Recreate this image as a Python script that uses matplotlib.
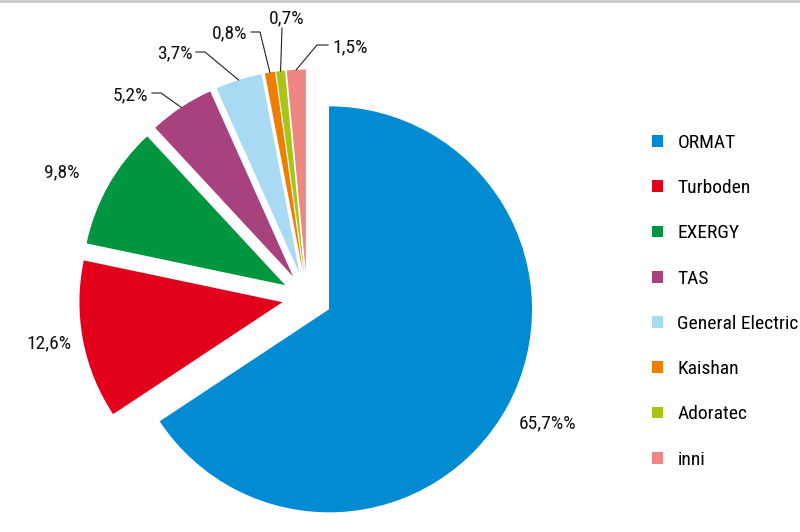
import matplotlib.pyplot as plt
import matplotlib.lines as mlines
import numpy as np

plt.rcParams['font.family'] = ['Roboto Condensed', 'DejaVu Sans']

companies = ['ORMAT', 'Turboden', 'EXERGY', 'TAS', 'General Electric', 'Kaishan', 'Adoratec', 'inni']
shares = [65.7, 12.6, 9.8, 5.2, 3.7, 0.8, 0.7, 1.5]
labels = ['65,7%%', '12,6%', '9,8%', '5,2%', '3,7%', '0,8%', '0,7%', '1,5%']
colors = ['#008bd2', '#e2001a', '#00953f', '#a8427f', '#a9daf3', '#ef7d00', '#a9c414', '#ee8682']

# layout (figure pixels, origin top-left)
W, H = 800, 532
cx, cy, R = 307, 297.5, 203
label_pos = [(548, 423), (49, 343), (62, 172), (130, 95), (175, 53), (230, 33), (287, 18), (350, 47)]
# start of leader line and knee point, None = no leader
leaders = [None, None, None,
           ((152, 93), (161, 93)),
           ((196, 52), (205, 52)),
           ((251, 32), (260, 32)),
           ((282, 28), (282, 28)),
           ((328, 45), (317, 45))]


def px(x, y):
    return (x - cx) / R, (cy - y) / R


fig = plt.figure(figsize=(W / 100, H / 100), dpi=100)
ax = fig.add_axes([0, 0, 1, 1])

wedges, _ = ax.pie(shares, colors=colors, startangle=90, counterclock=False,
                   explode=[25 / R] * len(shares), radius=1,
                   wedgeprops=dict(linewidth=0))
ax.set_xlim(-cx / R, (W - cx) / R)
ax.set_ylim(-(H - cy) / R, cy / R)
ax.set_aspect('auto')
ax.axis('off')

for w, lab, pos, ld in zip(wedges, labels, label_pos, leaders):
    ax.text(*px(*pos), lab, ha='center', va='center', fontsize=14, color='#111111')
    if ld is None:
        continue
    mid = np.deg2rad((w.theta1 + w.theta2) / 2)
    ex = w.center[0] + w.r * np.cos(mid)
    ey = w.center[1] + w.r * np.sin(mid)
    (sx, sy), (kx, ky) = px(*ld[0]), px(*ld[1])
    ax.plot([sx, kx, ex], [sy, ky, ey], color='#222222', lw=0.8)

ax.legend(wedges, companies, loc='upper left',
          bbox_to_anchor=(652 / W, 1 - 134 / H), bbox_transform=fig.transFigure,
          frameon=False, fontsize=14, handlelength=0.55, handleheight=0.55,
          handletextpad=0.75, labelspacing=1.40, borderpad=0, borderaxespad=0)

# thin grey rule along the top edge
fig.add_artist(mlines.Line2D([0, 1], [0.998, 0.998], color='#c8c8c8', lw=2))

fig.savefig('out.png', dpi=100)
